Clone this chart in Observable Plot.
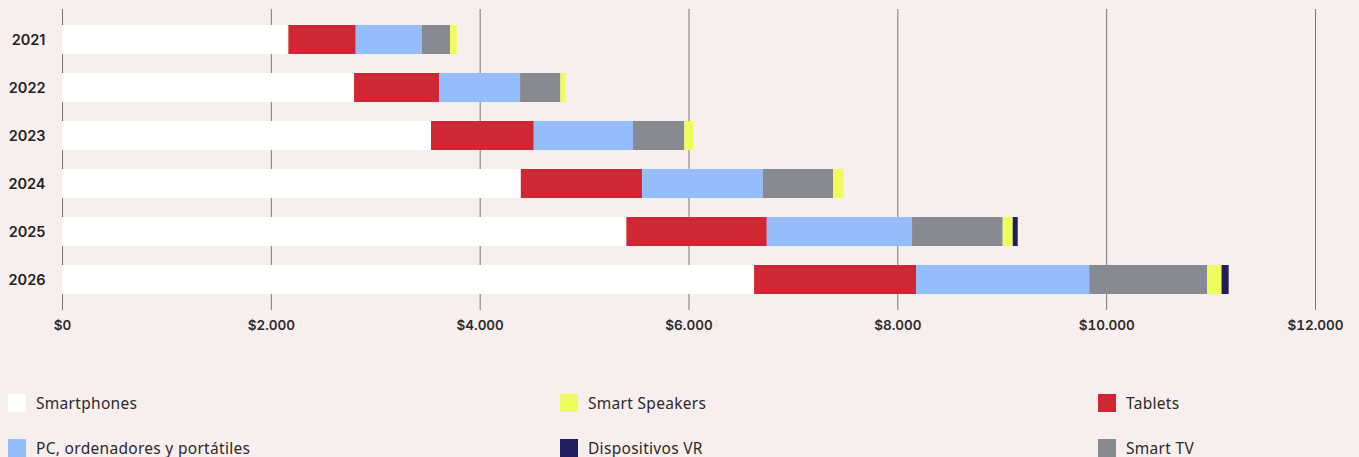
<!DOCTYPE html>
<html>
<head>
<meta charset="utf-8">
<script src="https://cdn.jsdelivr.net/npm/d3@7"></script>
<script src="https://cdn.jsdelivr.net/npm/@observablehq/plot@0.6"></script>
<style>
  html, body { margin: 0; padding: 0; background: #f9eeee; }
  body { width: 1359px; height: 457px; overflow: hidden; font-family: Inter, "Noto Sans", sans-serif; }
  #chart svg { display: block; background: transparent; }
  #legend {
    margin-top: 35px;
    display: grid;
    grid-template-columns: 552px 538px auto;
    grid-auto-rows: 45px;
    padding-left: 8px;
  }
  .item { display: flex; align-items: center; font-family: "Noto Sans", sans-serif; font-size: 15.5px; letter-spacing: 0.3px; color: #2a2a2a; }
  .sw { width: 18px; height: 18px; margin-right: 10px; flex: none; }
</style>
</head>
<body>
<div id="chart"></div>
<div id="legend"></div>
<script>
const years = ["2021", "2022", "2023", "2024", "2025", "2026"];
const categories = ["Smartphones", "Tablets", "PC, ordenadores y portátiles", "Smart TV", "Smart Speakers", "Dispositivos VR"];
const colors = ["#ffffff", "#cf2834", "#94bdfb", "#878a90", "#effc5c", "#1f1f5e"];
const smartphones = [2168, 2797, 3534, 4394, 5405, 6628];
const tablets = [645, 814, 984, 1162, 1345, 1551];
const pcs = [632, 776, 951, 1156, 1391, 1659];
const smartTV = [271, 386, 491, 673, 868, 1130];
const smartSpeakers = [64, 52, 86, 100, 96, 137];
const vr = [0, 0, 0, 0, 48, 68];
const xTicks = [0, 2000, 4000, 6000, 8000, 10000, 12000];
const legendOrder = ["Smartphones", "Smart Speakers", "Tablets", "PC, ordenadores y portátiles", "Dispositivos VR", "Smart TV"];

const series = [smartphones, tablets, pcs, smartTV, smartSpeakers, vr];
const data = [];
years.forEach((y, i) => {
  categories.forEach((c, j) => data.push({year: y, category: c, value: series[j][i]}));
});

const locale = d3.formatLocale({decimal: ",", thousands: ".", grouping: [3], currency: ["$", ""]});
const fmt = locale.format("$,.0f");

const plot = Plot.plot({
  width: 1359,
  height: 345,
  marginLeft: 62,
  marginRight: 44,
  marginTop: 9,
  marginBottom: 35,
  style: {background: "transparent", fontFamily: "Inter, 'Noto Sans', sans-serif"},
  x: {domain: [0, 12000], ticks: xTicks, tickFormat: fmt, tickSize: 0, tickPadding: 10, label: null},
  y: {domain: years, paddingInner: 0.403, paddingOuter: 0.287, tickSize: 0, tickPadding: 17, label: null},
  color: {domain: categories, range: colors},
  marks: [
    Plot.gridX(xTicks, {stroke: "#777", strokeOpacity: 1, strokeWidth: 1}),
    Plot.barX(data, Plot.stackX({x: "value", y: "year", fill: "category", order: categories})),
    Plot.axisX({ticks: xTicks, tickFormat: fmt, tickSize: 0, tickPadding: 10, fontSize: 13.5, fontWeight: 600, fill: "#2a2a2a", label: null}),
    Plot.axisY({tickSize: 0, tickPadding: 17, fontSize: 14.5, fontWeight: 600, fill: "#222", label: null})
  ]
});
document.getElementById("chart").appendChild(plot);

const legend = document.getElementById("legend");
legendOrder.forEach(name => {
  const idx = categories.indexOf(name);
  const it = document.createElement("div");
  it.className = "item";
  const sw = document.createElement("span");
  sw.className = "sw";
  sw.style.background = colors[idx];
  const t = document.createElement("span");
  t.textContent = name;
  it.appendChild(sw);
  it.appendChild(t);
  legend.appendChild(it);
});
</script>
</body>
</html>
